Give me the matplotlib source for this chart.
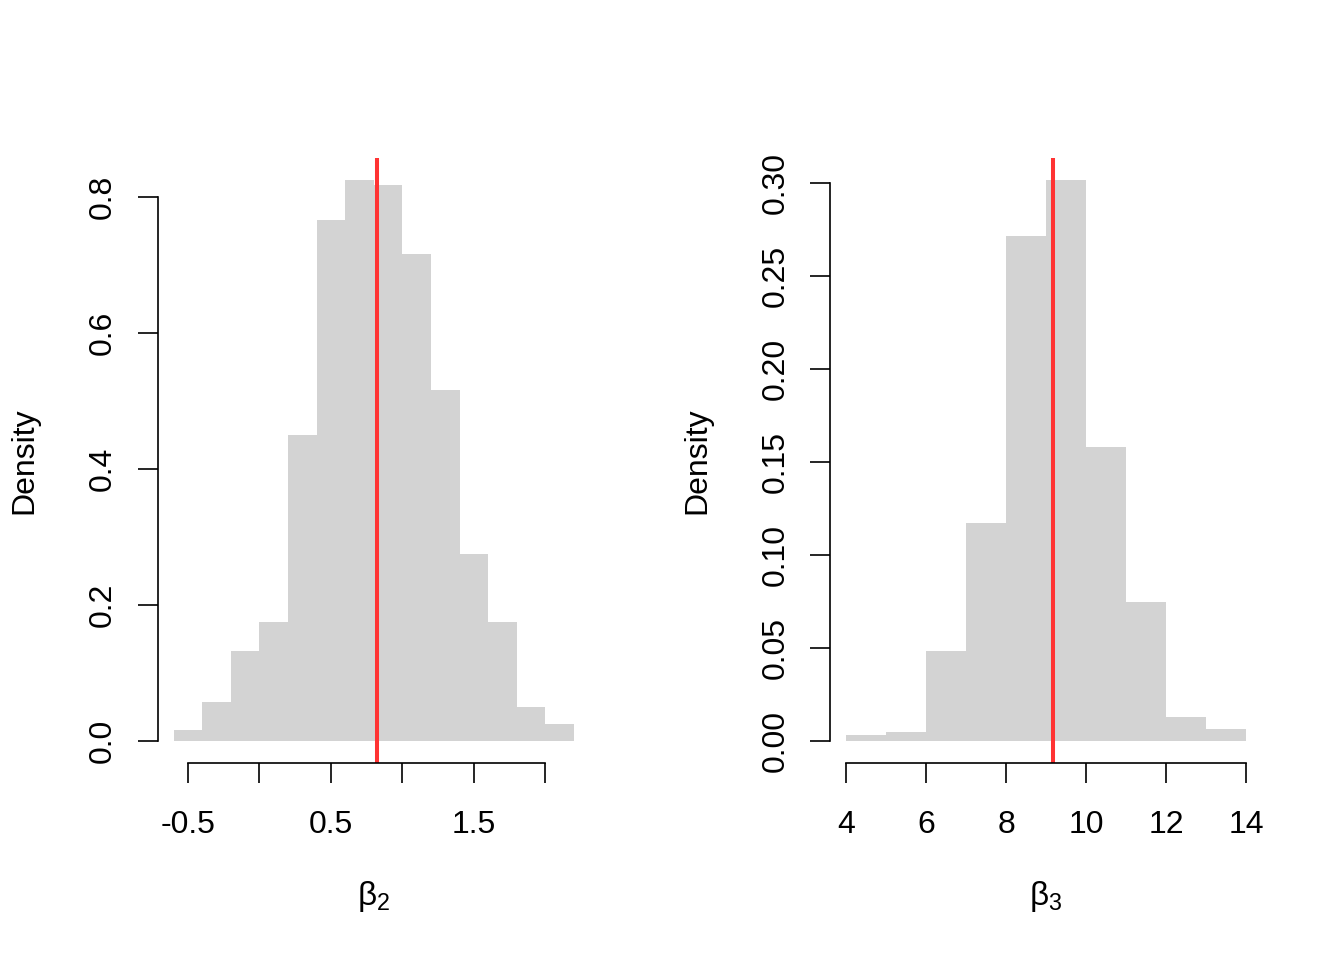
import matplotlib.pyplot as plt
import numpy as np

plt.rcParams['font.family'] = ['Liberation Sans', 'DejaVu Sans']
plt.rcParams['mathtext.fontset'] = 'custom'
plt.rcParams['mathtext.rm'] = 'Liberation Sans'
plt.rcParams['mathtext.it'] = 'Liberation Sans'

# beta_2 histogram (density)
b2_breaks = np.round(np.arange(-0.6, 2.2001, 0.2), 2)
b2_density = [0.016, 0.057, 0.132, 0.174, 0.450, 0.766, 0.825,
              0.818, 0.716, 0.516, 0.275, 0.174, 0.049, 0.024]
b2_line = 0.822
b2_xticks = [-0.5, 0.0, 0.5, 1.0, 1.5, 2.0]
b2_xlabels = ['-0.5', '', '0.5', '', '1.5', '']
b2_yticks = [0.0, 0.2, 0.4, 0.6, 0.8]
b2_ylabels = ['0.0', '0.2', '0.4', '0.6', '0.8']

# beta_3 histogram (density)
b3_breaks = np.arange(4, 15, 1)
b3_density = [0.0032, 0.0048, 0.048, 0.117, 0.2715, 0.3016,
              0.158, 0.0747, 0.0129, 0.0065]
b3_line = 9.175
b3_xticks = [4, 6, 8, 10, 12, 14]
b3_xlabels = ['4', '6', '8', '10', '12', '14']
b3_yticks = [0.00, 0.05, 0.10, 0.15, 0.20, 0.25, 0.30]
b3_ylabels = ['0.00', '0.05', '0.10', '0.15', '0.20', '0.25', '0.30']

fig = plt.figure(figsize=(13.44, 9.6), dpi=100)


def r_hist(rect, breaks, dens, vline, xt, xl, yt, yl, xlab):
    ax = fig.add_axes(rect)
    breaks = np.asarray(breaks, dtype=float)
    ax.bar(breaks[:-1], dens, width=np.diff(breaks), align='edge',
           color='#D3D3D3', edgecolor='none', linewidth=0)
    # R style 4% axis extension
    x0, x1 = breaks[0], breaks[-1]
    dx = (x1 - x0) * 0.04
    ymax = max(dens)
    dy = ymax * 0.04
    ax.set_xlim(x0 - dx, x1 + dx)
    ax.set_ylim(-dy, ymax + dy)
    ax.axvline(vline, color='#FF3333', linewidth=2.9)
    for s in ['top', 'right']:
        ax.spines[s].set_visible(False)
    ax.spines['bottom'].set_bounds(xt[0], xt[-1])
    ax.spines['left'].set_bounds(yt[0], yt[-1])
    for s in ['bottom', 'left']:
        ax.spines[s].set_linewidth(1.2)
    ax.set_xticks(xt)
    ax.set_xticklabels(xl)
    ax.set_yticks(yt)
    ax.set_yticklabels(yl, rotation=90, va='center')
    ax.tick_params(axis='both', length=14.4, width=1.2, labelsize=23)
    ax.tick_params(axis='x', pad=19.5)
    ax.tick_params(axis='y', pad=14)
    ax.set_xlabel(xlab, fontsize=24, labelpad=28)
    ax.set_ylabel('Density', fontsize=23, labelpad=35)
    return ax


r_hist([0.1173, 0.2052, 0.3217, 0.6306], b2_breaks, b2_density, b2_line,
       b2_xticks, b2_xlabels, b2_yticks, b2_ylabels, r'$\beta_2$')
r_hist([0.6176, 0.2052, 0.3214, 0.6306], b3_breaks, b3_density, b3_line,
       b3_xticks, b3_xlabels, b3_yticks, b3_ylabels, r'$\beta_3$')

fig.savefig('out.png', dpi=100)
